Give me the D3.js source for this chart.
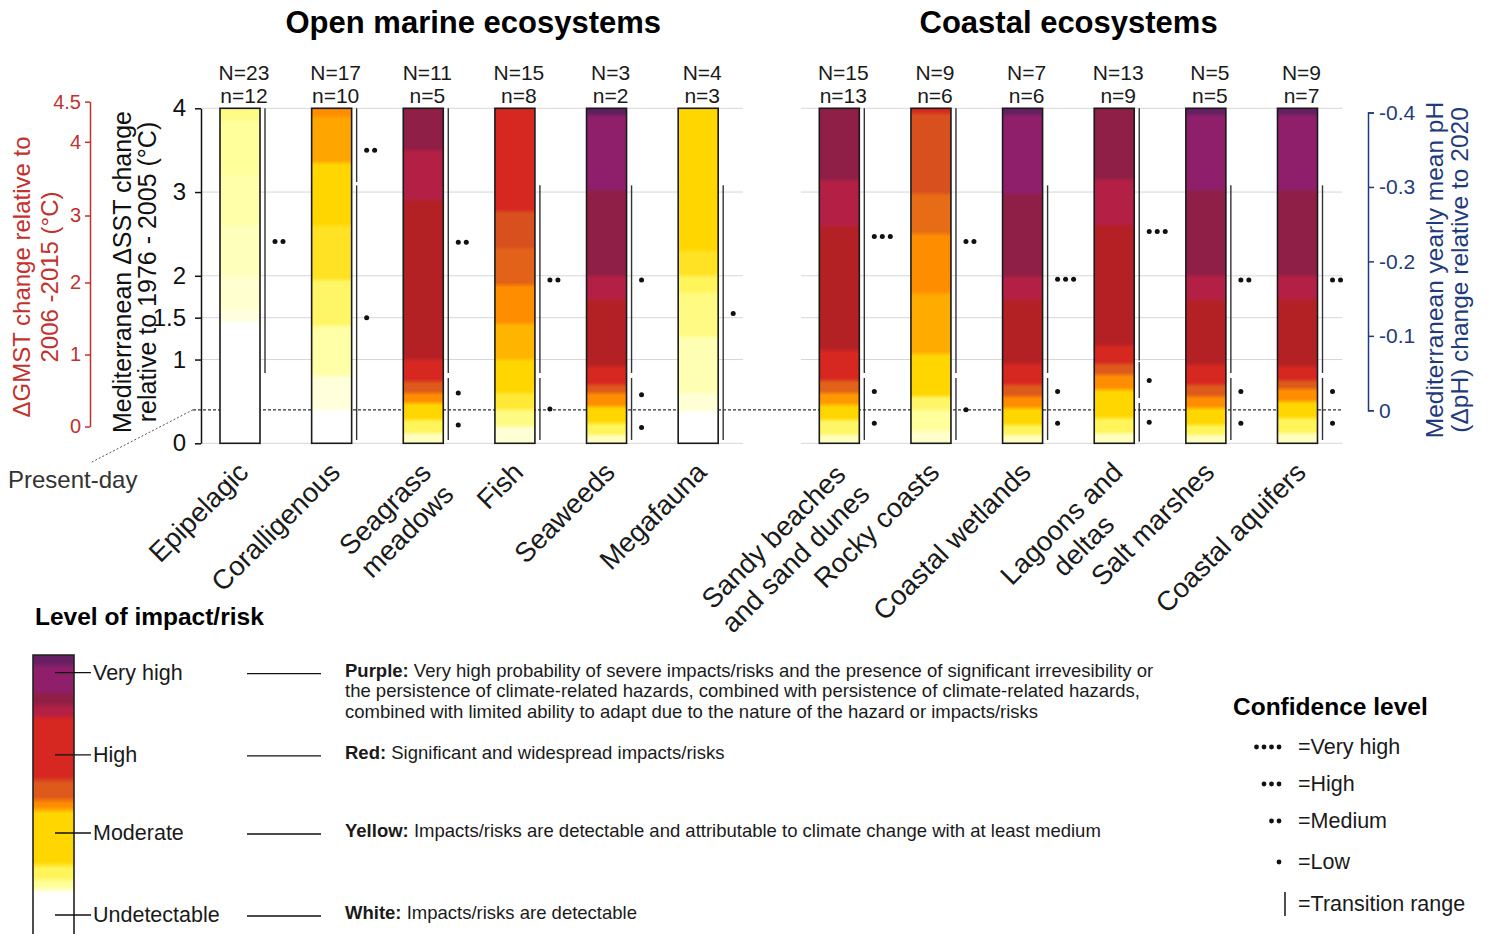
<!DOCTYPE html>
<html><head><meta charset="utf-8">
<script src="https://cdn.jsdelivr.net/npm/d3@7"></script>
<style>
body{margin:0;background:#fff}
svg{display:block}
text{font-family:"Liberation Sans",Arial,sans-serif;fill:#1a1a1a}
</style></head>
<body><svg id="chart" width="1489" height="934"></svg>
<script>
// ---------------- DATA ----------------
const categories = ["Epipelagic","Coralligenous","Seagrass\nmeadows","Fish","Seaweeds","Megafauna",
  "Sandy beaches\nand sand dunes","Rocky coasts","Coastal wetlands","Lagoons and\ndeltas","Salt marshes","Coastal aquifers"];
const groups = ["open","open","open","open","open","open","coastal","coastal","coastal","coastal","coastal","coastal"];
const groupKeys = ["open","coastal"];
const groupTitles = ["Open marine ecosystems","Coastal ecosystems"];
const bigN = [23,17,11,15,3,4,15,9,7,13,5,9];
const smallN = [12,10,5,8,2,3,13,6,6,9,5,7];

// risk level (0 undetectable, 1 moderate, 2 high, 3 very high) starting at each SST value, up to 4 °C
const riskEpipelagic = [[0,0],[1.45,0.2],[1.6,0.28],[2.0,0.36],[2.6,0.44],[3.2,0.5],[3.85,0.58]];
const riskCoralligenous = [[0,0],[0.4,0.22],[0.8,0.45],[1.4,0.7],[1.95,0.9],[2.6,1.0],[3.35,1.3],[3.9,1.5]];
const riskSeagrass = [[0,0.35],[0.12,0.75],[0.28,1.0],[0.48,1.5],[0.6,1.8],[0.74,2.0],[1.0,2.25],[2.9,2.5],[3.5,2.75]];
const riskFish = [[0,0.25],[0.2,0.6],[0.4,0.85],[0.6,1.0],[1.0,1.2],[1.43,1.5],[1.89,1.75],[2.33,1.85],[2.77,2.0]];
const riskSeaweeds = [[0,0.35],[0.1,0.75],[0.24,1.0],[0.44,1.5],[0.6,1.8],[0.7,2.0],[0.92,2.25],[1.71,2.5],[2.0,2.75],[3.02,3.0],[3.92,3.25]];
const riskMegafauna = [[0,0],[0.38,0.25],[0.6,0.4],[1.27,0.6],[1.8,0.75],[2.0,0.9],[2.3,1.0]];
const riskSandy = [[0,0.35],[0.1,0.7],[0.28,1.0],[0.46,1.4],[0.6,1.75],[0.75,2.0],[1.11,2.25],[2.59,2.5],[3.14,2.75]];
const riskRocky = [[0,0.3],[0.15,0.5],[0.4,0.7],[0.56,1.0],[1.07,1.25],[1.79,1.5],[2.5,1.7],[2.98,1.85],[3.94,2.0]];
const riskWetlands = [[0,0.35],[0.1,0.75],[0.22,1.0],[0.42,1.5],[0.56,1.8],[0.7,2.0],[0.95,2.25],[1.71,2.5],[1.99,2.75],[2.98,3.0],[3.92,3.2]];
const riskLagoons = [[0,0.35],[0.12,0.75],[0.3,1.0],[0.64,1.5],[0.82,1.8],[0.95,2.0],[1.17,2.25],[2.6,2.5],[3.15,2.75]];
const riskSaltMarshes = [[0,0.35],[0.1,0.75],[0.22,1.0],[0.42,1.5],[0.56,1.8],[0.7,2.0],[0.94,2.25],[1.71,2.5],[2.0,2.75],[3.02,3.0],[3.92,3.2]];
const riskAquifers = [[0,0.35],[0.12,0.75],[0.3,1.0],[0.5,1.5],[0.65,1.8],[0.75,2.0],[0.92,2.25],[1.71,2.5],[2.0,2.75],[3.02,3.0],[3.92,3.2]];
const riskBands = [riskEpipelagic,riskCoralligenous,riskSeagrass,riskFish,riskSeaweeds,riskMegafauna,
  riskSandy,riskRocky,riskWetlands,riskLagoons,riskSaltMarshes,riskAquifers];

// transition ranges [from, to] in SST °C
const transitionRanges = [
  [[0.84,4]],
  [[3.12,4],[0.04,3.08]],
  [[0.84,4],[0.04,0.78]],
  [[0.84,3.08],[0.04,0.78]],
  [[0.84,3.08],[0.04,0.78]],
  [[0.04,3.08]],
  [[0.84,4],[0.04,0.78]],
  [[0.84,4],[0.04,0.78]],
  [[0.84,3.08],[0.04,0.78]],
  [[0.99,4],[0.54,0.97],[0.02,0.48]],
  [[0.84,3.08],[0.04,0.78]],
  [[0.84,3.08],[0.04,0.78]]
];
// confidence marks [SST, number of dots]
const confidenceDots = [
  [[2.41,2]],
  [[3.5,2],[1.5,1]],
  [[2.4,2],[0.6,1],[0.22,1]],
  [[1.95,2],[0.41,1]],
  [[1.95,1],[0.58,1],[0.19,1]],
  [[1.55,1]],
  [[2.47,3],[0.62,1],[0.24,1]],
  [[2.41,2],[0.4,1]],
  [[1.96,3],[0.62,1],[0.24,1]],
  [[2.53,3],[0.75,1],[0.25,1]],
  [[1.95,2],[0.62,1],[0.24,1]],
  [[1.95,2],[0.62,1],[0.24,1]]
];

const sstTicks = [0,1,1.5,2,3,4];
const gmstTicks = [0,1,2,3,4,4.5];
const gmstTickPositionsSST = [0.2,1.06,1.92,2.72,3.6,4.08]; // SST equivalent of each GMST tick
const phTicks = [0,-0.1,-0.2,-0.3,-0.4];
const presentDaySST = 0.4;

const legendLevelNames = ["Very high","High","Moderate","Undetectable"];
const legendLevelFractions = [0.937,0.642,0.362,0.068];
const legendBands = [[0,0],[0.158,0.5],[0.194,0.75],[0.247,1.0],[0.444,1.5],[0.48,1.8],[0.552,2.0],[0.778,2.5],[0.82,2.75],[0.864,3.0],[0.964,3.2]];
const legendDescBold = ["Purple:","Red:","Yellow:","White:"];
const legendDescText = [
  [" Very high probability of severe impacts/risks and the presence of significant irrevesibility or",
   "the persistence of climate-related hazards, combined with persistence of climate-related hazards,",
   "combined with limited ability to adapt due to the nature of the hazard or impacts/risks"],
  [" Significant and widespread impacts/risks"],
  [" Impacts/risks are detectable and attributable to climate change with at least medium"],
  [" Impacts/risks are detectable"]
];
const confidenceNames = ["=Very high","=High","=Medium","=Low","=Transition range"];
const confidenceCounts = [4,3,2,1,0];

// ---------------- SCALES ----------------
const svg = d3.select("#chart");
const defs = svg.append("defs");
const riskColor = d3.scaleLinear()
  .domain([0,0.25,0.5,0.75,1.0,1.25,1.5,1.75,1.85,2.0,2.25,2.5,2.75,3.0,3.25])
  .range(["#ffffff","#ffffd6","#ffff9c","#fff45a","#ffd600","#ffab00","#ff8d00","#e2621a","#d8501e","#d72721","#b32124","#b41f45","#8f1f46","#8f1f6b","#5c1f60"])
  .clamp(true);

const sstScale = d3.scaleLinear().domain([0,4]).range([443.3,108.3]);
const gmstScale = d3.scaleLinear().domain(gmstTicks).range(gmstTickPositionsSST.map(v => sstScale(v)));
const phScale = d3.scaleLinear().domain([0,-0.4]).range([sstScale(presentDaySST)+0.5,112.5]);
const slotOf = i => i + (groups[i] === "coastal" ? 0.54 : 0);
const xScale = d3.scaleLinear().domain([0,11.54]).range([240,1297.5]);
const barW = 40;

// vertical gradient with short blends between bands; bands = [[start, level],...], top = domain max
function makeGradient(id, bands, top, blend){
  const grad = defs.append("linearGradient").attr("id",id).attr("x1",0).attr("y1",0).attr("x2",0).attr("y2",1);
  const off = v => Math.max(0, Math.min(1, (top - v) / top));
  for (let j = bands.length - 1; j >= 0; j--) {
    const hi = j < bands.length - 1 ? bands[j+1][0] : top;
    const lo = bands[j][0];
    const c = riskColor(bands[j][1]);
    const a = j < bands.length - 1 ? off(hi) + blend : 0;
    const b = j > 0 ? off(lo) - blend : 1;
    grad.append("stop").attr("offset",Math.min(a,b)).attr("stop-color",c);
    grad.append("stop").attr("offset",Math.max(a,b)).attr("stop-color",c);
  }
  return `url(#${id})`;
}

// ---------------- PANELS: grid + titles ----------------
const gGrid = svg.append("g");
const titleShift = [1,-3];
groupKeys.forEach((key,gi) => {
  const idx = d3.range(categories.length).filter(i => groups[i] === key);
  const x0 = xScale(slotOf(idx[0]) - 0.42), x1 = xScale(slotOf(idx[idx.length-1]) + 0.49);
  gGrid.selectAll(null).data(sstTicks).enter().append("line")
    .attr("x1",x0).attr("x2",x1).attr("y1",d=>sstScale(d)).attr("y2",d=>sstScale(d))
    .attr("stroke","#d6d6d6").attr("stroke-width",1);
  svg.append("text").attr("x",(x0+x1)/2 + titleShift[gi]).attr("y",33).attr("text-anchor","middle")
    .attr("font-size",31).attr("font-weight","bold").style("fill","#000").text(groupTitles[gi]);
});

// present-day dashed line
const pdY = sstScale(presentDaySST);
svg.append("line").attr("x1",193).attr("x2",1342).attr("y1",pdY).attr("y2",pdY)
  .attr("stroke","#333").attr("stroke-width",1.2).attr("stroke-dasharray","3,2");
svg.append("line").attr("x1",193).attr("y1",pdY).attr("x2",90).attr("y2",463)
  .attr("stroke","#555").attr("stroke-width",1).attr("stroke-dasharray","2,2");
svg.append("text").attr("x",8).attr("y",488).attr("font-size",24).style("fill","#333").text("Present-day");

// ---------------- BARS ----------------
categories.forEach((c,i) => {
  const cx = xScale(slotOf(i));
  const g = svg.append("g");
  const fill = makeGradient("bar"+i, riskBands[i], 4, 0.007);
  g.append("rect").attr("x",cx-barW/2).attr("y",sstScale(4)).attr("width",barW)
    .attr("height",sstScale(0)-sstScale(4)).attr("fill",fill)
    .attr("stroke","#1a1a1a").attr("stroke-width",1.6);

  const lx = cx + barW/2 + 5;
  g.selectAll("line.tr").data(transitionRanges[i]).enter().append("line").attr("class","tr")
    .attr("x1",lx).attr("x2",lx).attr("y1",d=>sstScale(d[1])).attr("y2",d=>sstScale(d[0]))
    .attr("stroke","#333").attr("stroke-width",1.4);
  confidenceDots[i].forEach(([v,n]) => {
    g.selectAll(null).data(d3.range(n)).enter().append("circle")
      .attr("cx",k => lx + 10 + k*8).attr("cy",sstScale(v)).attr("r",2.5).attr("fill","#111");
  });
  // N / n labels
  svg.append("text").attr("x",cx+4).attr("y",80).attr("text-anchor","middle").attr("font-size",21).text("N="+bigN[i]);
  svg.append("text").attr("x",cx+4).attr("y",103).attr("text-anchor","middle").attr("font-size",21).text("n="+smallN[i]);

  // category labels, rotated
  const lines = c.split("\n");
  const lab = svg.append("g").attr("transform",`translate(${cx+10},474) rotate(-45)`);
  const ts = lab.selectAll("text").data(lines).enter().append("text")
    .attr("font-size",27.5).attr("y",(d,k)=>k*31).attr("text-anchor","middle").text(d=>d);
  const maxW = d3.max(ts.nodes(), n => n.getComputedTextLength());
  ts.attr("x",-maxW/2);
});

// ---------------- AXES ----------------
const axSST = svg.append("g").attr("transform","translate(201,0)")
  .call(d3.axisLeft(sstScale).tickValues(sstTicks).tickSize(6).tickSizeOuter(0).tickPadding(9)
    .tickFormat(d => d === 1.5 ? "1.5" : d3.format("d")(d)));
axSST.selectAll("text").attr("font-size",24).style("fill","#111").style("font-family","Liberation Sans, Arial, sans-serif");
axSST.selectAll("line,path").attr("stroke","#111").attr("stroke-width",1.5);

const red = "#c3312e";
const axG = svg.append("g").attr("transform","translate(90,0)")
  .call(d3.axisLeft(gmstScale).tickValues(gmstTicks).tickSize(5).tickSizeOuter(0).tickPadding(4)
    .tickFormat(d => String(d)));
axG.selectAll("text").attr("font-size",20).style("fill",red).style("font-family","Liberation Sans, Arial, sans-serif");
axG.selectAll("line,path").attr("stroke",red).attr("stroke-width",1.5);

const blue = "#1f3b7c";
const axP = svg.append("g").attr("transform","translate(1368,0)")
  .call(d3.axisRight(phScale).tickValues(phTicks).tickSize(6).tickSizeOuter(6).tickPadding(5)
    .tickFormat(d => d === 0 ? "0" : d.toFixed(1)));
axP.selectAll("text").attr("font-size",21).style("fill",blue).style("font-family","Liberation Sans, Arial, sans-serif");
axP.selectAll("line,path").attr("stroke",blue).attr("stroke-width",1.5);

function rotTitle(x, y, lines, color, spacing, size){
  const g = svg.append("g").attr("transform",`translate(${x},${y}) rotate(-90)`);
  lines.forEach((t,k) => g.append("text").attr("x",0).attr("y",k*spacing).attr("text-anchor","middle")
    .attr("font-size",size).style("fill",color).text(t));
}
rotTitle(30,277,["ΔGMST change relative to","2006 -2015 (°C)"],red,28,24);
rotTitle(131,272,["Mediterranean ΔSST change","relative to 1976 - 2005 (°C)"],"#111",25,25);
rotTitle(1443,270,["Mediterranean yearly mean pH","(ΔpH) change relative to 2020"],blue,25,24.5);

// ---------------- LEGEND: level of impact ----------------
svg.append("text").attr("x",35).attr("y",625).attr("font-size",24.5).attr("font-weight","bold").style("fill","#000").text("Level of impact/risk");
const legScale = d3.scaleLinear().domain([0,1]).range([934,655]);
const legX = 33, legW = 41;
const legFill = makeGradient("legbar", legendBands, 1, 0.012);
svg.append("rect").attr("x",legX).attr("y",655).attr("width",legW).attr("height",279).attr("fill",legFill);
svg.append("path").attr("d",`M${legX},934V655H${legX+legW}V934`).attr("fill","none").attr("stroke","#222").attr("stroke-width",1.6);

legendLevelNames.forEach((name,k) => {
  const y = legScale(legendLevelFractions[k]);
  svg.append("line").attr("x1",55).attr("x2",91).attr("y1",y).attr("y2",y).attr("stroke","#111").attr("stroke-width",1.4);
  svg.append("text").attr("x",93).attr("y",y+7).attr("font-size",21.5).text(name);
  svg.append("line").attr("x1",247).attr("x2",321).attr("y1",y+1).attr("y2",y+1).attr("stroke","#111").attr("stroke-width",1.4);
  legendDescText[k].forEach((line,li) => {
    const t = svg.append("text").attr("x",345).attr("y",y + 4 + li*20.5).attr("font-size",18.5);
    if (li === 0) { t.append("tspan").attr("font-weight","bold").text(legendDescBold[k]); t.append("tspan").text(line); }
    else t.text(line);
  });
});

// ---------------- LEGEND: confidence ----------------
svg.append("text").attr("x",1233).attr("y",715).attr("font-size",24.5).attr("font-weight","bold").style("fill","#000").text("Confidence level");
const confY = [747,784,821,862,904];
confidenceNames.forEach((name,k) => {
  const y = confY[k];
  const n = confidenceCounts[k];
  if (n > 0) {
    svg.selectAll(null).data(d3.range(n)).enter().append("circle")
      .attr("cx",j => 1279 - (n-1-j)*7.5).attr("cy",y).attr("r",2.4).attr("fill","#111");
  } else {
    svg.append("line").attr("x1",1285).attr("x2",1285).attr("y1",y-12).attr("y2",y+12).attr("stroke","#222").attr("stroke-width",1.6);
  }
  svg.append("text").attr("x",1298).attr("y",y+7).attr("font-size",21.5).text(name);
});
</script></body></html>
